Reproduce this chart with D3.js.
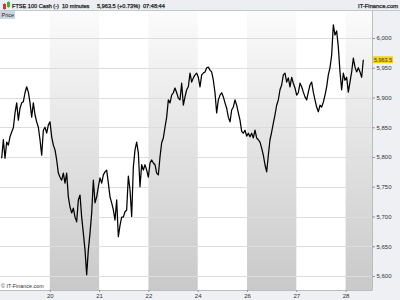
<!DOCTYPE html>
<html>
<head>
<meta charset="utf-8">
<script src="https://cdn.jsdelivr.net/npm/d3@7"></script>
<style>
  html, body { margin: 0; padding: 0; background: #fff; }
  svg { display: block; font-family: "Liberation Sans", Arial, sans-serif; }
</style>
</head>
<body>
<script>
// FTSE 100 cash, 10 minute closes (one sample every ~1/30 session)
var prices = [
  5798, 5829, 5798, 5825, 5820, 5834, 5842, 5849, 5874, 5891,
  5862, 5882, 5891, 5893, 5908, 5918, 5909, 5891, 5867, 5891,
  5871, 5859, 5850, 5829, 5803, 5845, 5850, 5840, 5854, 5859,
  5834, 5820, 5812, 5795, 5773, 5766, 5761, 5773, 5756, 5773,
  5733, 5716, 5706, 5714, 5699, 5691, 5728, 5736, 5699, 5672,
  5644, 5602, 5644, 5672, 5706, 5761, 5723, 5733, 5750, 5765,
  5756, 5770, 5775, 5778, 5756, 5733, 5723, 5711, 5694, 5728,
  5666, 5685, 5699, 5699, 5708, 5711, 5768, 5745, 5700, 5783,
  5812, 5825, 5807, 5750, 5787, 5778, 5787, 5778, 5766, 5790,
  5795, 5790, 5787, 5773, 5770, 5800, 5824, 5832, 5850, 5867,
  5896, 5891, 5904, 5908, 5916, 5908, 5899, 5896, 5924, 5887,
  5901, 5913, 5918, 5941, 5926, 5933, 5938, 5941, 5934, 5918,
  5938, 5941, 5943, 5950, 5951, 5946, 5943, 5929, 5908, 5874,
  5896, 5904, 5908, 5901, 5891, 5882, 5867, 5859, 5879, 5884,
  5896, 5887, 5874, 5862, 5843, 5840, 5845, 5835, 5840, 5834,
  5840, 5832, 5845, 5832, 5829, 5825, 5815, 5803, 5787, 5775,
  5803, 5829, 5842, 5857, 5871, 5887, 5896, 5913, 5921, 5938,
  5941, 5926, 5933, 5918, 5934, 5924, 5916, 5904, 5908, 5924,
  5918, 5909, 5901, 5896, 5909, 5921, 5926, 5909, 5896, 5884,
  5876, 5887, 5884, 5892, 5904, 5918, 5938, 5950, 5971, 6022,
  6005, 6012, 5985, 5943, 5913, 5941, 5929, 5934, 5909, 5926,
  5943, 5966, 5951, 5943, 5950, 5943, 5934, 5963.5
];
var dayLabels = ["20", "21", "22", "24", "26", "27", "28"];
var priceTicks = [5600, 5650, 5700, 5750, 5800, 5850, 5900, 5950, 6000];
var lastPrice = 5963.5;
var firstSample = 0.024, lastSample = 7.359;   // in sessions from the left edge

var width = 400, height = 300;
var plotRight = 372, plotTop = 11, plotBottom = 290;

var svg = d3.select("body").append("svg")
    .attr("width", width)
    .attr("height", height);

var x = d3.scaleLinear().domain([0, 7.535]).range([0.5, plotRight]);
var xi = d3.scaleLinear().domain([0, prices.length - 1]).range([x(firstSample), x(lastSample)]);
var y = d3.scaleLinear().domain([5600, 6000]).range([276, 38]);

// gradient for the shaded sessions
var grad = svg.append("defs").append("linearGradient")
    .attr("id", "band").attr("x1", 0).attr("y1", 0).attr("x2", 0).attr("y2", 1);
grad.append("stop").attr("offset", "0%").attr("stop-color", "#fbfbfb");
grad.append("stop").attr("offset", "100%").attr("stop-color", "#c9c9c9");

svg.append("rect")
    .attr("x", 0).attr("y", plotTop)
    .attr("width", plotRight).attr("height", plotBottom - plotTop)
    .style("fill", "#fff");

// alternate sessions shaded
var sessions = d3.range(0, 8).filter(function(d) { return d % 2 == 1; });
svg.selectAll(".band").data(sessions).enter().append("rect")
    .attr("class", "band")
    .attr("x", function(d) { return x(d); })
    .attr("y", plotTop)
    .attr("width", function(d) { return Math.min(x(d + 1), plotRight) - x(d); })
    .attr("height", plotBottom - plotTop)
    .style("fill", "url(#band)");

// horizontal grid
svg.selectAll(".grid").data(priceTicks).enter().append("line")
    .attr("class", "grid")
    .attr("x1", 0).attr("x2", plotRight + 3)
    .attr("y1", function(d) { return Math.round(y(d)) + 0.5; })
    .attr("y2", function(d) { return Math.round(y(d)) + 0.5; })
    .style("stroke", "#dddddd")
    .style("stroke-width", 1);

// right axis panel
svg.append("rect")
    .attr("x", plotRight).attr("y", plotTop)
    .attr("width", width - plotRight).attr("height", height - plotTop)
    .style("fill", "#eef0f3");
// bottom axis panel
svg.append("rect")
    .attr("x", 0).attr("y", plotBottom)
    .attr("width", width).attr("height", height - plotBottom)
    .style("fill", "#eef0f3");
svg.append("line")
    .attr("x1", plotRight + 0.5).attr("x2", plotRight + 0.5)
    .attr("y1", plotTop).attr("y2", plotBottom)
    .style("stroke", "#b9bec5");
svg.append("line")
    .attr("x1", 0).attr("x2", plotRight + 0.5)
    .attr("y1", plotBottom + 0.5).attr("y2", plotBottom + 0.5)
    .style("stroke", "#b9bec5");

// price line
var line = d3.line()
    .x(function(d, i) { return xi(i); })
    .y(function(d) { return y(d); });
svg.append("path")
    .datum(prices)
    .attr("d", line)
    .style("fill", "none")
    .style("stroke", "#000")
    .style("stroke-width", 1.25)
    .style("stroke-linejoin", "round");

// y axis
var yAxis = svg.append("g")
    .attr("transform", "translate(" + plotRight + ",0)")
    .call(d3.axisRight(y).tickValues(priceTicks).tickFormat(d3.format(",")).tickSize(3).tickPadding(1.5));
yAxis.select(".domain").remove();
yAxis.selectAll("line").style("stroke", "#999");
yAxis.selectAll("text")
    .style("font-size", "6px")
    .style("fill", "#333")
    .style("font-family", "Liberation Sans, Arial, sans-serif");

// x axis
var xAxis = svg.append("g")
    .attr("transform", "translate(0," + plotBottom + ")")
    .call(d3.axisBottom(x).tickValues(d3.range(1, 8)).tickFormat(function(d) { return dayLabels[d - 1]; }).tickSize(2).tickPadding(1.5));
xAxis.select(".domain").remove();
xAxis.selectAll("line").style("stroke", "#999");
xAxis.selectAll("text")
    .style("font-size", "6px")
    .style("fill", "#333")
    .style("font-family", "Liberation Sans, Arial, sans-serif");

// last price tag
svg.append("rect")
    .attr("x", plotRight + 1).attr("y", y(lastPrice) - 3.5)
    .attr("width", 20).attr("height", 7)
    .style("fill", "#f7d417");
svg.append("text")
    .attr("x", plotRight + 2).attr("y", y(lastPrice))
    .attr("dy", "0.35em")
    .style("font-size", "5.4px")
    .style("fill", "#333")
    .text(d3.format(",.1f")(lastPrice));

// header
svg.append("rect")
    .attr("x", 0).attr("y", 0).attr("width", width).attr("height", plotTop)
    .style("fill", "#eceef1");
svg.append("line")
    .attr("x1", 0).attr("x2", width).attr("y1", plotTop - 0.5).attr("y2", plotTop - 0.5)
    .style("stroke", "#c3c8ce");
// little candle icon
svg.append("rect").attr("x", 3).attr("y", 4).attr("width", 3).attr("height", 5).style("fill", "#e0322e");
svg.append("rect").attr("x", 7).attr("y", 2).attr("width", 3).attr("height", 5).style("fill", "#3cb43c");
svg.append("line").attr("x1", 4.5).attr("x2", 4.5).attr("y1", 3).attr("y2", 10).style("stroke", "#e0322e").style("stroke-width", 0.6);
svg.append("line").attr("x1", 8.5).attr("x2", 8.5).attr("y1", 1).attr("y2", 8).style("stroke", "#3cb43c").style("stroke-width", 0.6);

var head = [
    { x: 12, t: "FTSE 100 Cash (-)" },
    { x: 62, t: "10 minutes" },
    { x: 97, t: "5,963.5 (+0.73%)" },
    { x: 143, t: "07:48:44" }
];
svg.selectAll(".head").data(head).enter().append("text")
    .attr("class", "head")
    .attr("x", function(d) { return d.x; })
    .attr("y", 7.8)
    .style("font-size", "5.6px")
    .style("fill", "#222")
    .style("stroke", "#222")
    .style("stroke-width", 0.25)
    .text(function(d) { return d.t; });
svg.append("text")
    .attr("x", 398).attr("y", 7.8)
    .style("text-anchor", "end")
    .style("font-size", "5.8px")
    .style("fill", "#222")
    .style("stroke", "#222")
    .style("stroke-width", 0.25)
    .text("IT-Finance.com");

// panel title
svg.append("rect")
    .attr("x", 0).attr("y", plotTop).attr("width", 15).attr("height", 8)
    .style("fill", "#ccd6e1");
svg.append("text")
    .attr("x", 1.5).attr("y", plotTop + 6.2)
    .style("font-size", "5.5px")
    .style("fill", "#222")
    .text("Price");

svg.append("text")
    .attr("x", 1).attr("y", 288)
    .style("font-size", "5.4px")
    .style("fill", "#333")
    .text("\u00a9 IT-Finance.com");
</script>
</body>
</html>
